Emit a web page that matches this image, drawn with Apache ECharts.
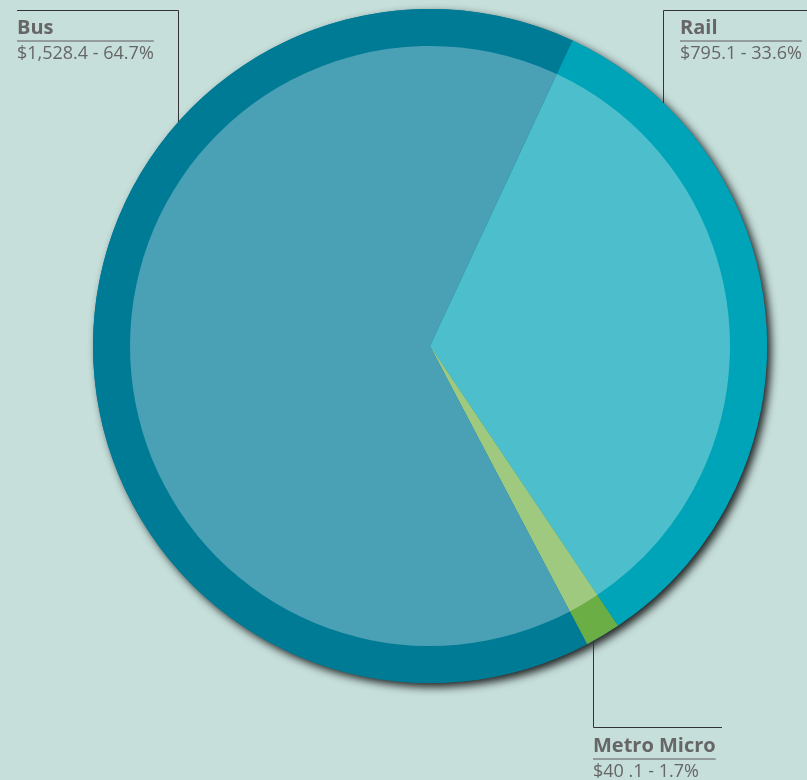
<!DOCTYPE html>
<html>
<head>
<meta charset="utf-8">
<script src="https://cdn.jsdelivr.net/npm/echarts@6/dist/echarts.min.js"></script>
<style>
html,body{margin:0;padding:0;background:#c6dfdb;}
#chart{width:807px;height:780px;}
</style>
</head>
<body>
<div id="chart"></div>
<script>
const categories = ['Rail', 'Metro Micro', 'Bus'];
const values = [795.1, 40.1, 1528.4];
const valueLabels = ['$795.1 - 33.6%', '$40 .1 - 1.7%', '$1,528.4 - 64.7%'];
const outerColors = ['#00a4b8', '#6aae45', '#007b96'];
const innerColors = ['#4dbecb', '#9ec97f', '#4aa0b5'];

// label placement (annotation layout)
const labelPos = {
  'Bus':         {x: 17,  y: 15,  line: [[178.5, 147], [178.5, 10.5], [17, 10.5]]},
  'Rail':        {x: 680, y: 15,  line: [[663.5, 124], [663.5, 10.5], [807, 10.5]]},
  'Metro Micro': {x: 593, y: 733, line: [[593.5, 622], [593.5, 727.5], [722, 727.5]]}
};

const NAME_FONT = 'bold 20px "Open Sans"';
const VAL_FONT = '18px "Open Sans"';
const ctx = document.createElement('canvas').getContext('2d');
function textW(t, f) { ctx.font = f; return ctx.measureText(t).width; }

const chart = echarts.init(document.getElementById('chart'));
const center = [430, 346];
const total = values.reduce((a, b) => a + b, 0);

chart.setOption({
  backgroundColor: '#c6dfdb',
  animation: false,
  series: [
    {
      type: 'pie', silent: true, center: center, radius: 337, z: 1,
      startAngle: 65, label: {show: false}, labelLine: {show: false},
      itemStyle: {color: '#007b96', shadowBlur: 8, shadowColor: 'rgba(0,0,0,0.85)', shadowOffsetX: 4, shadowOffsetY: 4},
      data: [{name: 'shadow', value: total}]
    },
    {
      type: 'pie', silent: true, center: center, radius: 337, z: 2,
      startAngle: 65, bleedMargin: -2000,
      data: categories.map((c, i) => ({
        name: c, value: values[i], itemStyle: {color: outerColors[i]},
        label: {
          formatter: '{n|' + c + '}\n{hr|}\n{v|' + valueLabels[i] + '}',
          rich: {
            n: {fontSize: 20, fontWeight: 'bold', color: '#666', lineHeight: 26, fontFamily: 'Open Sans'},
            hr: {borderColor: '#777', borderWidth: 0.8, height: 0, lineHeight: 0,
                 width: Math.max(textW(c, NAME_FONT), textW(valueLabels[i], VAL_FONT))},
            v: {fontSize: 18, color: '#666', lineHeight: 26, fontFamily: 'Open Sans'}
          }
        }
      })),
      label: {
        show: true, position: 'outside', align: 'left', verticalAlign: 'top',
        overflow: 'none', fontFamily: 'Open Sans'
      },
      labelLine: {show: true, length: 0, length2: 0, lineStyle: {color: '#333', width: 1}},
      labelLayout: function (p) {
        const lp = labelPos[categories[p.dataIndex]];
        return {x: lp.x, y: lp.y, align: 'left', verticalAlign: 'top', labelLinePoints: lp.line, moveOverlap: null};
      }
    },
    {
      type: 'pie', silent: true, center: center, radius: 300, z: 3,
      startAngle: 65, label: {show: false}, labelLine: {show: false},
      data: categories.map((c, i) => ({name: c, value: values[i], itemStyle: {color: innerColors[i]}}))
    }
  ]
});
</script>
</body>
</html>
